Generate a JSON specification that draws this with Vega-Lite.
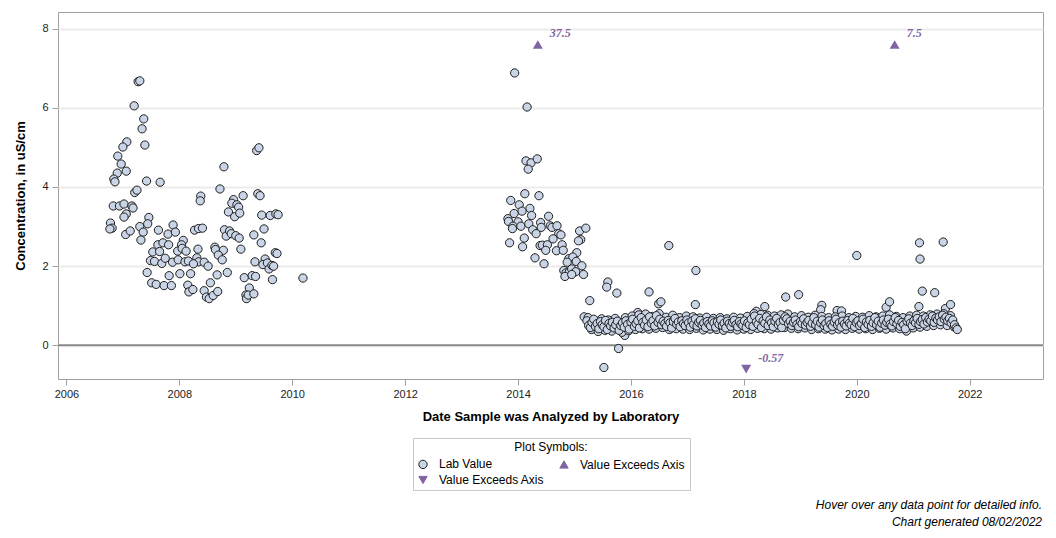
{
"$schema": "https://vega.github.io/schema/vega-lite/v6.json",
"width": 985, "height": 367,
"autosize": {"type": "none"},
"padding": {"left": 58, "top": 12, "right": 13, "bottom": 159},
"background": "white",
"config": {"font": "Liberation Sans", "view": {"stroke": "#a0a0a0", "strokeWidth": 1},
  "axis": {"labelFont": "Liberation Sans", "labelFontSize": 11, "labelColor": "#222", "tickColor": "#a0a0a0", "tickSize": 6, "domain": false, "titleFont": "Liberation Sans", "titleFontSize": 13, "titleFontWeight": "bold", "titleColor": "black"}},
"title": {"text": ["Hover over any data point for detailed info.", "Chart generated 08/02/2022"], "orient": "bottom", "anchor": "end", "fontStyle": "italic", "fontWeight": "normal", "fontSize": 12, "color": "black", "offset": 9, "dx": -2, "lineHeight": 17, "font": "Liberation Sans"},
"datasets": {
"pts": [
{"d":2007.27,"v":6.66,"t":"Lab Value"},{"d":2007.30,"v":6.68,"t":"Lab Value"},{"d":2007.20,"v":6.05,"t":"Lab Value"},{"d":2007.37,"v":5.72,"t":"Lab Value"},{"d":2007.34,"v":5.47,"t":"Lab Value"},{"d":2007.39,"v":5.06,"t":"Lab Value"},{"d":2007.07,"v":5.14,"t":"Lab Value"},{"d":2007.00,"v":5.01,"t":"Lab Value"},{"d":2006.91,"v":4.78,"t":"Lab Value"},{"d":2006.97,"v":4.58,"t":"Lab Value"},{"d":2006.90,"v":4.35,"t":"Lab Value"},{"d":2007.06,"v":4.40,"t":"Lab Value"},{"d":2006.84,"v":4.20,"t":"Lab Value"},{"d":2006.86,"v":4.13,"t":"Lab Value"},{"d":2007.42,"v":4.15,"t":"Lab Value"},{"d":2007.66,"v":4.12,"t":"Lab Value"},{"d":2008.79,"v":4.51,"t":"Lab Value"},{"d":2009.37,"v":4.92,"t":"Lab Value"},{"d":2009.41,"v":4.99,"t":"Lab Value"},{"d":2007.21,"v":3.86,"t":"Lab Value"},{"d":2007.25,"v":3.92,"t":"Lab Value"},{"d":2008.38,"v":3.77,"t":"Lab Value"},{"d":2008.72,"v":3.95,"t":"Lab Value"},{"d":2008.96,"v":3.68,"t":"Lab Value"},{"d":2009.13,"v":3.78,"t":"Lab Value"},{"d":2009.39,"v":3.83,"t":"Lab Value"},{"d":2009.43,"v":3.78,"t":"Lab Value"},
{"d":2006.83,"v":3.52,"t":"Lab Value"},{"d":2006.94,"v":3.52,"t":"Lab Value"},{"d":2007.02,"v":3.57,"t":"Lab Value"},{"d":2007.06,"v":3.32,"t":"Lab Value"},{"d":2007.02,"v":3.24,"t":"Lab Value"},{"d":2007.16,"v":3.52,"t":"Lab Value"},{"d":2007.18,"v":3.47,"t":"Lab Value"},{"d":2006.78,"v":3.09,"t":"Lab Value"},{"d":2006.81,"v":2.96,"t":"Lab Value"},{"d":2006.77,"v":2.94,"t":"Lab Value"},{"d":2007.05,"v":2.80,"t":"Lab Value"},{"d":2007.13,"v":2.89,"t":"Lab Value"},{"d":2007.30,"v":3.00,"t":"Lab Value"},{"d":2007.36,"v":2.86,"t":"Lab Value"},{"d":2007.32,"v":2.66,"t":"Lab Value"},{"d":2007.46,"v":3.23,"t":"Lab Value"},{"d":2007.44,"v":3.07,"t":"Lab Value"},{"d":2007.43,"v":1.84,"t":"Lab Value"},{"d":2007.51,"v":1.58,"t":"Lab Value"},{"d":2007.59,"v":1.54,"t":"Lab Value"},{"d":2007.53,"v":2.36,"t":"Lab Value"},{"d":2007.49,"v":2.14,"t":"Lab Value"},{"d":2007.56,"v":2.12,"t":"Lab Value"},{"d":2007.63,"v":2.91,"t":"Lab Value"},{"d":2007.62,"v":2.54,"t":"Lab Value"},{"d":2007.65,"v":2.37,"t":"Lab Value"},{"d":2007.69,"v":2.07,"t":"Lab Value"},{"d":2007.75,"v":2.20,"t":"Lab Value"},{"d":2007.71,"v":2.59,"t":"Lab Value"},{"d":2007.80,"v":2.81,"t":"Lab Value"},{"d":2007.89,"v":3.04,"t":"Lab Value"},{"d":2007.93,"v":2.86,"t":"Lab Value"},{"d":2007.81,"v":2.54,"t":"Lab Value"},{"d":2007.73,"v":1.51,"t":"Lab Value"},{"d":2007.86,"v":1.51,"t":"Lab Value"},{"d":2007.82,"v":1.76,"t":"Lab Value"},{"d":2007.88,"v":2.10,"t":"Lab Value"},{"d":2007.97,"v":2.38,"t":"Lab Value"},{"d":2007.98,"v":2.16,"t":"Lab Value"},{"d":2008.01,"v":1.81,"t":"Lab Value"},{"d":2008.07,"v":2.65,"t":"Lab Value"},{"d":2008.04,"v":2.54,"t":"Lab Value"},{"d":2008.05,"v":2.45,"t":"Lab Value"},{"d":2008.12,"v":2.38,"t":"Lab Value"},{"d":2008.10,"v":2.11,"t":"Lab Value"},{"d":2008.16,"v":2.13,"t":"Lab Value"},{"d":2008.15,"v":1.52,"t":"Lab Value"},{"d":2008.17,"v":1.35,"t":"Lab Value"},{"d":2008.24,"v":1.41,"t":"Lab Value"},{"d":2008.20,"v":1.81,"t":"Lab Value"},{"d":2008.27,"v":2.91,"t":"Lab Value"},{"d":2008.33,"v":2.43,"t":"Lab Value"},{"d":2008.34,"v":2.95,"t":"Lab Value"},{"d":2008.41,"v":2.96,"t":"Lab Value"},{"d":2008.37,"v":3.65,"t":"Lab Value"},{"d":2008.31,"v":2.21,"t":"Lab Value"},{"d":2008.34,"v":2.11,"t":"Lab Value"},{"d":2008.25,"v":2.06,"t":"Lab Value"},{"d":2008.44,"v":2.10,"t":"Lab Value"},{"d":2008.51,"v":2.00,"t":"Lab Value"},{"d":2008.44,"v":1.38,"t":"Lab Value"},{"d":2008.48,"v":1.22,"t":"Lab Value"},{"d":2008.53,"v":1.18,"t":"Lab Value"},{"d":2008.55,"v":1.58,"t":"Lab Value"},{"d":2008.60,"v":1.26,"t":"Lab Value"},{"d":2008.68,"v":1.36,"t":"Lab Value"},{"d":2008.67,"v":1.78,"t":"Lab Value"},{"d":2008.85,"v":1.84,"t":"Lab Value"},{"d":2008.63,"v":2.48,"t":"Lab Value"},{"d":2008.64,"v":2.42,"t":"Lab Value"},{"d":2008.78,"v":2.40,"t":"Lab Value"},{"d":2008.69,"v":2.28,"t":"Lab Value"},{"d":2008.76,"v":2.16,"t":"Lab Value"},{"d":2008.80,"v":2.92,"t":"Lab Value"},{"d":2008.83,"v":2.76,"t":"Lab Value"},{"d":2008.89,"v":2.89,"t":"Lab Value"},{"d":2008.92,"v":2.82,"t":"Lab Value"},{"d":2008.87,"v":3.37,"t":"Lab Value"},{"d":2008.93,"v":3.59,"t":"Lab Value"},{"d":2009.02,"v":3.55,"t":"Lab Value"},{"d":2009.05,"v":3.49,"t":"Lab Value"},{"d":2008.98,"v":3.25,"t":"Lab Value"},{"d":2009.07,"v":3.34,"t":"Lab Value"},{"d":2009.00,"v":2.77,"t":"Lab Value"},{"d":2009.06,"v":2.71,"t":"Lab Value"},{"d":2009.09,"v":2.43,"t":"Lab Value"},{"d":2009.15,"v":1.71,"t":"Lab Value"},{"d":2009.24,"v":1.45,"t":"Lab Value"},{"d":2009.18,"v":1.27,"t":"Lab Value"},{"d":2009.19,"v":1.18,"t":"Lab Value"},{"d":2009.22,"v":1.27,"t":"Lab Value"},{"d":2009.32,"v":1.30,"t":"Lab Value"},{"d":2009.29,"v":1.76,"t":"Lab Value"},{"d":2009.35,"v":1.74,"t":"Lab Value"},{"d":2009.32,"v":2.79,"t":"Lab Value"},{"d":2009.34,"v":2.11,"t":"Lab Value"},{"d":2009.45,"v":2.59,"t":"Lab Value"},{"d":2009.46,"v":3.29,"t":"Lab Value"},{"d":2009.50,"v":2.94,"t":"Lab Value"},{"d":2009.52,"v":2.18,"t":"Lab Value"},{"d":2009.48,"v":2.04,"t":"Lab Value"},{"d":2009.56,"v":2.08,"t":"Lab Value"},{"d":2009.59,"v":1.93,"t":"Lab Value"},{"d":2009.64,"v":2.02,"t":"Lab Value"},{"d":2009.67,"v":2.00,"t":"Lab Value"},{"d":2009.65,"v":1.66,"t":"Lab Value"},{"d":2009.61,"v":3.28,"t":"Lab Value"},{"d":2009.71,"v":3.32,"t":"Lab Value"},{"d":2009.75,"v":3.30,"t":"Lab Value"},{"d":2009.70,"v":2.34,"t":"Lab Value"},{"d":2009.73,"v":2.32,"t":"Lab Value"},{"d":2010.19,"v":1.70,"t":"Lab Value"},
{"d":2013.94,"v":6.88,"t":"Lab Value"},{"d":2014.16,"v":6.02,"t":"Lab Value"},{"d":2014.14,"v":4.66,"t":"Lab Value"},{"d":2014.23,"v":4.61,"t":"Lab Value"},{"d":2014.34,"v":4.71,"t":"Lab Value"},{"d":2014.18,"v":4.45,"t":"Lab Value"},{"d":2014.12,"v":3.83,"t":"Lab Value"},{"d":2014.37,"v":3.78,"t":"Lab Value"},{"d":2013.87,"v":3.66,"t":"Lab Value"},{"d":2014.02,"v":3.55,"t":"Lab Value"},{"d":2014.21,"v":3.46,"t":"Lab Value"},{"d":2014.07,"v":3.39,"t":"Lab Value"},{"d":2013.93,"v":3.33,"t":"Lab Value"},{"d":2014.24,"v":3.28,"t":"Lab Value"},{"d":2014.54,"v":3.26,"t":"Lab Value"},{"d":2013.82,"v":3.20,"t":"Lab Value"},{"d":2013.83,"v":3.13,"t":"Lab Value"},{"d":2014.00,"v":3.12,"t":"Lab Value"},{"d":2013.91,"v":3.01,"t":"Lab Value"},{"d":2013.90,"v":2.95,"t":"Lab Value"},{"d":2014.05,"v":3.01,"t":"Lab Value"},{"d":2014.19,"v":3.07,"t":"Lab Value"},{"d":2014.26,"v":2.92,"t":"Lab Value"},{"d":2014.32,"v":2.82,"t":"Lab Value"},{"d":2014.40,"v":3.10,"t":"Lab Value"},{"d":2014.41,"v":2.98,"t":"Lab Value"},{"d":2014.57,"v":3.02,"t":"Lab Value"},{"d":2014.60,"v":2.98,"t":"Lab Value"},{"d":2014.69,"v":3.02,"t":"Lab Value"},{"d":2014.72,"v":2.82,"t":"Lab Value"},{"d":2014.76,"v":2.79,"t":"Lab Value"},{"d":2014.62,"v":2.69,"t":"Lab Value"},{"d":2014.11,"v":2.71,"t":"Lab Value"},{"d":2013.85,"v":2.59,"t":"Lab Value"},{"d":2014.08,"v":2.49,"t":"Lab Value"},{"d":2014.39,"v":2.52,"t":"Lab Value"},{"d":2014.43,"v":2.53,"t":"Lab Value"},{"d":2014.52,"v":2.54,"t":"Lab Value"},{"d":2014.49,"v":2.40,"t":"Lab Value"},{"d":2014.30,"v":2.21,"t":"Lab Value"},{"d":2014.46,"v":2.06,"t":"Lab Value"},{"d":2014.78,"v":2.54,"t":"Lab Value"},{"d":2014.68,"v":2.39,"t":"Lab Value"},{"d":2014.80,"v":2.40,"t":"Lab Value"},{"d":2015.04,"v":2.34,"t":"Lab Value"},{"d":2015.09,"v":2.89,"t":"Lab Value"},{"d":2015.20,"v":2.96,"t":"Lab Value"},{"d":2015.11,"v":2.67,"t":"Lab Value"},{"d":2015.07,"v":2.64,"t":"Lab Value"},{"d":2014.90,"v":2.19,"t":"Lab Value"},{"d":2014.97,"v":2.23,"t":"Lab Value"},{"d":2015.03,"v":2.12,"t":"Lab Value"},{"d":2014.87,"v":2.10,"t":"Lab Value"},{"d":2015.13,"v":2.01,"t":"Lab Value"},{"d":2014.81,"v":1.89,"t":"Lab Value"},{"d":2014.85,"v":1.83,"t":"Lab Value"},{"d":2014.91,"v":1.86,"t":"Lab Value"},{"d":2014.95,"v":1.93,"t":"Lab Value"},{"d":2015.02,"v":1.86,"t":"Lab Value"},{"d":2015.16,"v":1.79,"t":"Lab Value"},{"d":2014.83,"v":1.74,"t":"Lab Value"},{"d":2014.95,"v":1.79,"t":"Lab Value"},{"d":2015.27,"v":1.13,"t":"Lab Value"},
{"d":2015.17,"v":0.72,"t":"Lab Value"},{"d":2015.59,"v":1.60,"t":"Lab Value"},{"d":2015.57,"v":1.47,"t":"Lab Value"},{"d":2015.75,"v":1.32,"t":"Lab Value"},{"d":2015.52,"v":-0.56,"t":"Lab Value"},{"d":2015.78,"v":-0.08,"t":"Lab Value"},{"d":2015.89,"v":0.25,"t":"Lab Value"},{"d":2016.67,"v":2.52,"t":"Lab Value"},{"d":2016.32,"v":1.35,"t":"Lab Value"},{"d":2016.49,"v":1.05,"t":"Lab Value"},{"d":2016.53,"v":1.10,"t":"Lab Value"},{"d":2016.12,"v":0.83,"t":"Lab Value"},{"d":2017.15,"v":1.89,"t":"Lab Value"},{"d":2017.14,"v":1.03,"t":"Lab Value"},{"d":2018.37,"v":0.98,"t":"Lab Value"},{"d":2018.22,"v":0.86,"t":"Lab Value"},{"d":2018.74,"v":1.22,"t":"Lab Value"},{"d":2018.97,"v":1.28,"t":"Lab Value"},{"d":2019.38,"v":1.01,"t":"Lab Value"},{"d":2019.36,"v":0.90,"t":"Lab Value"},{"d":2019.65,"v":0.88,"t":"Lab Value"},{"d":2019.73,"v":0.87,"t":"Lab Value"},{"d":2020.00,"v":2.27,"t":"Lab Value"},{"d":2020.52,"v":0.96,"t":"Lab Value"},{"d":2020.58,"v":1.10,"t":"Lab Value"},{"d":2021.11,"v":2.59,"t":"Lab Value"},{"d":2021.12,"v":2.18,"t":"Lab Value"},{"d":2021.16,"v":1.37,"t":"Lab Value"},{"d":2021.38,"v":1.33,"t":"Lab Value"},{"d":2021.53,"v":2.61,"t":"Lab Value"},{"d":2021.10,"v":0.98,"t":"Lab Value"},{"d":2021.57,"v":0.93,"t":"Lab Value"},{"d":2021.66,"v":1.03,"t":"Lab Value"},
{"d":2015.24,"v":0.70,"t":"Lab Value"},{"d":2015.30,"v":0.40,"t":"Lab Value"},{"d":2015.36,"v":0.62,"t":"Lab Value"},{"d":2015.42,"v":0.35,"t":"Lab Value"},{"d":2015.48,"v":0.67,"t":"Lab Value"},{"d":2015.54,"v":0.38,"t":"Lab Value"},{"d":2015.60,"v":0.64,"t":"Lab Value"},{"d":2015.66,"v":0.36,"t":"Lab Value"},{"d":2015.72,"v":0.68,"t":"Lab Value"},{"d":2015.78,"v":0.42,"t":"Lab Value"},{"d":2015.84,"v":0.33,"t":"Lab Value"},{"d":2015.90,"v":0.70,"t":"Lab Value"},{"d":2015.96,"v":0.37,"t":"Lab Value"},{"d":2016.02,"v":0.74,"t":"Lab Value"},{"d":2016.08,"v":0.40,"t":"Lab Value"},{"d":2016.14,"v":0.77,"t":"Lab Value"},{"d":2016.20,"v":0.42,"t":"Lab Value"},{"d":2016.26,"v":0.79,"t":"Lab Value"},{"d":2016.32,"v":0.41,"t":"Lab Value"},{"d":2016.38,"v":0.73,"t":"Lab Value"},{"d":2016.44,"v":0.43,"t":"Lab Value"},{"d":2016.50,"v":0.80,"t":"Lab Value"},{"d":2016.56,"v":0.45,"t":"Lab Value"},{"d":2016.62,"v":0.71,"t":"Lab Value"},{"d":2016.68,"v":0.40,"t":"Lab Value"},{"d":2016.74,"v":0.76,"t":"Lab Value"},{"d":2016.80,"v":0.42,"t":"Lab Value"},{"d":2016.86,"v":0.70,"t":"Lab Value"},{"d":2016.92,"v":0.41,"t":"Lab Value"},{"d":2016.98,"v":0.74,"t":"Lab Value"},{"d":2017.04,"v":0.40,"t":"Lab Value"},{"d":2017.10,"v":0.72,"t":"Lab Value"},{"d":2017.16,"v":0.43,"t":"Lab Value"},{"d":2017.22,"v":0.69,"t":"Lab Value"},{"d":2017.28,"v":0.39,"t":"Lab Value"},{"d":2017.34,"v":0.71,"t":"Lab Value"},{"d":2017.40,"v":0.41,"t":"Lab Value"},{"d":2017.46,"v":0.68,"t":"Lab Value"},{"d":2017.52,"v":0.40,"t":"Lab Value"},{"d":2017.58,"v":0.70,"t":"Lab Value"},{"d":2017.64,"v":0.38,"t":"Lab Value"},{"d":2017.70,"v":0.67,"t":"Lab Value"},{"d":2017.76,"v":0.42,"t":"Lab Value"},{"d":2017.82,"v":0.71,"t":"Lab Value"},{"d":2017.88,"v":0.39,"t":"Lab Value"},{"d":2017.94,"v":0.69,"t":"Lab Value"},{"d":2018.00,"v":0.41,"t":"Lab Value"},{"d":2018.06,"v":0.73,"t":"Lab Value"},{"d":2018.12,"v":0.40,"t":"Lab Value"},{"d":2018.18,"v":0.80,"t":"Lab Value"},{"d":2018.24,"v":0.43,"t":"Lab Value"},{"d":2018.30,"v":0.78,"t":"Lab Value"},{"d":2018.36,"v":0.42,"t":"Lab Value"},{"d":2018.42,"v":0.76,"t":"Lab Value"},{"d":2018.48,"v":0.41,"t":"Lab Value"},{"d":2018.54,"v":0.74,"t":"Lab Value"},{"d":2018.60,"v":0.44,"t":"Lab Value"},{"d":2018.66,"v":0.77,"t":"Lab Value"},{"d":2018.72,"v":0.45,"t":"Lab Value"},{"d":2018.78,"v":0.79,"t":"Lab Value"},{"d":2018.84,"v":0.43,"t":"Lab Value"},{"d":2018.90,"v":0.72,"t":"Lab Value"},{"d":2018.96,"v":0.42,"t":"Lab Value"},{"d":2019.02,"v":0.75,"t":"Lab Value"},{"d":2019.08,"v":0.44,"t":"Lab Value"},{"d":2019.14,"v":0.71,"t":"Lab Value"},{"d":2019.20,"v":0.40,"t":"Lab Value"},{"d":2019.26,"v":0.76,"t":"Lab Value"},{"d":2019.32,"v":0.42,"t":"Lab Value"},{"d":2019.38,"v":0.73,"t":"Lab Value"},{"d":2019.44,"v":0.41,"t":"Lab Value"},{"d":2019.50,"v":0.70,"t":"Lab Value"},{"d":2019.56,"v":0.39,"t":"Lab Value"},{"d":2019.62,"v":0.72,"t":"Lab Value"},{"d":2019.68,"v":0.41,"t":"Lab Value"},{"d":2019.74,"v":0.74,"t":"Lab Value"},{"d":2019.80,"v":0.40,"t":"Lab Value"},{"d":2019.86,"v":0.70,"t":"Lab Value"},{"d":2019.92,"v":0.43,"t":"Lab Value"},{"d":2019.98,"v":0.73,"t":"Lab Value"},{"d":2020.04,"v":0.41,"t":"Lab Value"},{"d":2020.10,"v":0.71,"t":"Lab Value"},{"d":2020.16,"v":0.42,"t":"Lab Value"},{"d":2020.22,"v":0.75,"t":"Lab Value"},{"d":2020.28,"v":0.40,"t":"Lab Value"},{"d":2020.34,"v":0.72,"t":"Lab Value"},{"d":2020.40,"v":0.43,"t":"Lab Value"},{"d":2020.46,"v":0.74,"t":"Lab Value"},{"d":2020.52,"v":0.41,"t":"Lab Value"},{"d":2020.58,"v":0.77,"t":"Lab Value"},{"d":2020.64,"v":0.44,"t":"Lab Value"},{"d":2020.70,"v":0.73,"t":"Lab Value"},{"d":2020.76,"v":0.42,"t":"Lab Value"},{"d":2020.82,"v":0.70,"t":"Lab Value"},{"d":2020.88,"v":0.36,"t":"Lab Value"},{"d":2020.94,"v":0.74,"t":"Lab Value"},{"d":2021.00,"v":0.44,"t":"Lab Value"},{"d":2021.06,"v":0.76,"t":"Lab Value"},{"d":2021.12,"v":0.46,"t":"Lab Value"},{"d":2021.18,"v":0.74,"t":"Lab Value"},{"d":2021.24,"v":0.48,"t":"Lab Value"},{"d":2021.30,"v":0.77,"t":"Lab Value"},{"d":2021.36,"v":0.50,"t":"Lab Value"},{"d":2021.42,"v":0.79,"t":"Lab Value"},{"d":2021.48,"v":0.52,"t":"Lab Value"},{"d":2021.54,"v":0.80,"t":"Lab Value"},{"d":2021.60,"v":0.50,"t":"Lab Value"},{"d":2021.66,"v":0.75,"t":"Lab Value"},{"d":2021.72,"v":0.47,"t":"Lab Value"},
{"d":2015.22,"v":0.62,"t":"Lab Value"},{"d":2015.25,"v":0.50,"t":"Lab Value"},{"d":2015.28,"v":0.45,"t":"Lab Value"},{"d":2015.31,"v":0.58,"t":"Lab Value"},{"d":2015.34,"v":0.66,"t":"Lab Value"},{"d":2015.37,"v":0.48,"t":"Lab Value"},{"d":2015.40,"v":0.55,"t":"Lab Value"},{"d":2015.43,"v":0.42,"t":"Lab Value"},{"d":2015.46,"v":0.60,"t":"Lab Value"},{"d":2015.49,"v":0.52,"t":"Lab Value"},{"d":2015.52,"v":0.47,"t":"Lab Value"},{"d":2015.55,"v":0.63,"t":"Lab Value"},{"d":2015.58,"v":0.40,"t":"Lab Value"},{"d":2015.61,"v":0.55,"t":"Lab Value"},{"d":2015.64,"v":0.49,"t":"Lab Value"},{"d":2015.67,"v":0.58,"t":"Lab Value"},{"d":2015.70,"v":0.44,"t":"Lab Value"},{"d":2015.73,"v":0.52,"t":"Lab Value"},{"d":2015.76,"v":0.61,"t":"Lab Value"},{"d":2015.79,"v":0.38,"t":"Lab Value"},{"d":2015.82,"v":0.50,"t":"Lab Value"},{"d":2015.85,"v":0.57,"t":"Lab Value"},{"d":2015.88,"v":0.46,"t":"Lab Value"},{"d":2015.91,"v":0.62,"t":"Lab Value"},{"d":2015.94,"v":0.53,"t":"Lab Value"},{"d":2015.97,"v":0.41,"t":"Lab Value"},{"d":2016.00,"v":0.59,"t":"Lab Value"},{"d":2016.03,"v":0.66,"t":"Lab Value"},{"d":2016.06,"v":0.48,"t":"Lab Value"},{"d":2016.09,"v":0.55,"t":"Lab Value"},{"d":2016.12,"v":0.62,"t":"Lab Value"},{"d":2016.15,"v":0.44,"t":"Lab Value"},{"d":2016.18,"v":0.70,"t":"Lab Value"},{"d":2016.21,"v":0.58,"t":"Lab Value"},{"d":2016.24,"v":0.51,"t":"Lab Value"},{"d":2016.27,"v":0.64,"t":"Lab Value"},{"d":2016.30,"v":0.47,"t":"Lab Value"},{"d":2016.33,"v":0.72,"t":"Lab Value"},{"d":2016.36,"v":0.56,"t":"Lab Value"},{"d":2016.39,"v":0.62,"t":"Lab Value"},{"d":2016.42,"v":0.49,"t":"Lab Value"},{"d":2016.45,"v":0.75,"t":"Lab Value"},{"d":2016.48,"v":0.58,"t":"Lab Value"},{"d":2016.51,"v":0.66,"t":"Lab Value"},{"d":2016.54,"v":0.52,"t":"Lab Value"},{"d":2016.57,"v":0.61,"t":"Lab Value"},{"d":2016.60,"v":0.55,"t":"Lab Value"},{"d":2016.63,"v":0.48,"t":"Lab Value"},{"d":2016.66,"v":0.63,"t":"Lab Value"},{"d":2016.69,"v":0.57,"t":"Lab Value"},{"d":2016.72,"v":0.44,"t":"Lab Value"},{"d":2016.75,"v":0.60,"t":"Lab Value"},{"d":2016.78,"v":0.68,"t":"Lab Value"},{"d":2016.81,"v":0.53,"t":"Lab Value"},{"d":2016.84,"v":0.59,"t":"Lab Value"},{"d":2016.87,"v":0.47,"t":"Lab Value"},{"d":2016.90,"v":0.62,"t":"Lab Value"},{"d":2016.93,"v":0.55,"t":"Lab Value"},{"d":2016.96,"v":0.50,"t":"Lab Value"},{"d":2016.99,"v":0.64,"t":"Lab Value"},{"d":2017.02,"v":0.57,"t":"Lab Value"},{"d":2017.05,"v":0.46,"t":"Lab Value"},{"d":2017.08,"v":0.61,"t":"Lab Value"},{"d":2017.11,"v":0.53,"t":"Lab Value"},{"d":2017.14,"v":0.67,"t":"Lab Value"},{"d":2017.17,"v":0.49,"t":"Lab Value"},{"d":2017.20,"v":0.58,"t":"Lab Value"},{"d":2017.23,"v":0.63,"t":"Lab Value"},{"d":2017.26,"v":0.51,"t":"Lab Value"},{"d":2017.29,"v":0.56,"t":"Lab Value"},{"d":2017.32,"v":0.45,"t":"Lab Value"},{"d":2017.35,"v":0.60,"t":"Lab Value"},{"d":2017.38,"v":0.54,"t":"Lab Value"},{"d":2017.41,"v":0.49,"t":"Lab Value"},{"d":2017.44,"v":0.62,"t":"Lab Value"},{"d":2017.47,"v":0.57,"t":"Lab Value"},{"d":2017.50,"v":0.46,"t":"Lab Value"},{"d":2017.53,"v":0.59,"t":"Lab Value"},{"d":2017.56,"v":0.53,"t":"Lab Value"},{"d":2017.59,"v":0.64,"t":"Lab Value"},{"d":2017.62,"v":0.50,"t":"Lab Value"},{"d":2017.65,"v":0.56,"t":"Lab Value"},{"d":2017.68,"v":0.44,"t":"Lab Value"},{"d":2017.71,"v":0.61,"t":"Lab Value"},{"d":2017.74,"v":0.55,"t":"Lab Value"},{"d":2017.77,"v":0.48,"t":"Lab Value"},{"d":2017.80,"v":0.58,"t":"Lab Value"},{"d":2017.83,"v":0.63,"t":"Lab Value"},{"d":2017.86,"v":0.52,"t":"Lab Value"},{"d":2017.89,"v":0.47,"t":"Lab Value"},{"d":2017.92,"v":0.60,"t":"Lab Value"},{"d":2017.95,"v":0.54,"t":"Lab Value"},{"d":2017.98,"v":0.50,"t":"Lab Value"},{"d":2018.01,"v":0.62,"t":"Lab Value"},{"d":2018.04,"v":0.45,"t":"Lab Value"},{"d":2018.07,"v":0.57,"t":"Lab Value"},{"d":2018.10,"v":0.52,"t":"Lab Value"},{"d":2018.13,"v":0.66,"t":"Lab Value"},{"d":2018.16,"v":0.48,"t":"Lab Value"},{"d":2018.19,"v":0.74,"t":"Lab Value"},{"d":2018.22,"v":0.59,"t":"Lab Value"},{"d":2018.25,"v":0.53,"t":"Lab Value"},{"d":2018.28,"v":0.68,"t":"Lab Value"},{"d":2018.31,"v":0.45,"t":"Lab Value"},{"d":2018.34,"v":0.62,"t":"Lab Value"},{"d":2018.37,"v":0.56,"t":"Lab Value"},{"d":2018.40,"v":0.72,"t":"Lab Value"},{"d":2018.43,"v":0.50,"t":"Lab Value"},{"d":2018.46,"v":0.64,"t":"Lab Value"},{"d":2018.49,"v":0.57,"t":"Lab Value"},{"d":2018.52,"v":0.47,"t":"Lab Value"},{"d":2018.55,"v":0.61,"t":"Lab Value"},{"d":2018.58,"v":0.68,"t":"Lab Value"},{"d":2018.61,"v":0.52,"t":"Lab Value"},{"d":2018.64,"v":0.58,"t":"Lab Value"},{"d":2018.67,"v":0.45,"t":"Lab Value"},{"d":2018.70,"v":0.63,"t":"Lab Value"},{"d":2018.73,"v":0.72,"t":"Lab Value"},{"d":2018.76,"v":0.67,"t":"Lab Value"},{"d":2018.79,"v":0.55,"t":"Lab Value"},{"d":2018.82,"v":0.61,"t":"Lab Value"},{"d":2018.85,"v":0.50,"t":"Lab Value"},{"d":2018.88,"v":0.58,"t":"Lab Value"},{"d":2018.91,"v":0.64,"t":"Lab Value"},{"d":2018.94,"v":0.53,"t":"Lab Value"},{"d":2018.97,"v":0.47,"t":"Lab Value"},{"d":2019.00,"v":0.60,"t":"Lab Value"},{"d":2019.03,"v":0.55,"t":"Lab Value"},{"d":2019.06,"v":0.67,"t":"Lab Value"},{"d":2019.09,"v":0.51,"t":"Lab Value"},{"d":2019.12,"v":0.58,"t":"Lab Value"},{"d":2019.15,"v":0.63,"t":"Lab Value"},{"d":2019.18,"v":0.48,"t":"Lab Value"},{"d":2019.21,"v":0.56,"t":"Lab Value"},{"d":2019.24,"v":0.70,"t":"Lab Value"},{"d":2019.27,"v":0.52,"t":"Lab Value"},{"d":2019.30,"v":0.61,"t":"Lab Value"},{"d":2019.33,"v":0.46,"t":"Lab Value"},{"d":2019.36,"v":0.57,"t":"Lab Value"},{"d":2019.39,"v":0.64,"t":"Lab Value"},{"d":2019.42,"v":0.50,"t":"Lab Value"},{"d":2019.45,"v":0.55,"t":"Lab Value"},{"d":2019.48,"v":0.45,"t":"Lab Value"},{"d":2019.51,"v":0.62,"t":"Lab Value"},{"d":2019.54,"v":0.53,"t":"Lab Value"},{"d":2019.57,"v":0.48,"t":"Lab Value"},{"d":2019.60,"v":0.59,"t":"Lab Value"},{"d":2019.63,"v":0.66,"t":"Lab Value"},{"d":2019.66,"v":0.51,"t":"Lab Value"},{"d":2019.69,"v":0.57,"t":"Lab Value"},{"d":2019.72,"v":0.46,"t":"Lab Value"},{"d":2019.75,"v":0.61,"t":"Lab Value"},{"d":2019.78,"v":0.54,"t":"Lab Value"},{"d":2019.81,"v":0.49,"t":"Lab Value"},{"d":2019.84,"v":0.63,"t":"Lab Value"},{"d":2019.87,"v":0.56,"t":"Lab Value"},{"d":2019.90,"v":0.52,"t":"Lab Value"},{"d":2019.93,"v":0.68,"t":"Lab Value"},{"d":2019.96,"v":0.47,"t":"Lab Value"},{"d":2019.99,"v":0.58,"t":"Lab Value"},{"d":2020.02,"v":0.62,"t":"Lab Value"},{"d":2020.05,"v":0.50,"t":"Lab Value"},{"d":2020.08,"v":0.55,"t":"Lab Value"},{"d":2020.11,"v":0.66,"t":"Lab Value"},{"d":2020.14,"v":0.45,"t":"Lab Value"},{"d":2020.17,"v":0.59,"t":"Lab Value"},{"d":2020.20,"v":0.53,"t":"Lab Value"},{"d":2020.23,"v":0.63,"t":"Lab Value"},{"d":2020.26,"v":0.48,"t":"Lab Value"},{"d":2020.29,"v":0.57,"t":"Lab Value"},{"d":2020.32,"v":0.70,"t":"Lab Value"},{"d":2020.35,"v":0.52,"t":"Lab Value"},{"d":2020.38,"v":0.61,"t":"Lab Value"},{"d":2020.41,"v":0.46,"t":"Lab Value"},{"d":2020.44,"v":0.56,"t":"Lab Value"},{"d":2020.47,"v":0.64,"t":"Lab Value"},{"d":2020.50,"v":0.51,"t":"Lab Value"},{"d":2020.53,"v":0.58,"t":"Lab Value"},{"d":2020.56,"v":0.66,"t":"Lab Value"},{"d":2020.59,"v":0.53,"t":"Lab Value"},{"d":2020.62,"v":0.49,"t":"Lab Value"},{"d":2020.65,"v":0.60,"t":"Lab Value"},{"d":2020.68,"v":0.70,"t":"Lab Value"},{"d":2020.71,"v":0.55,"t":"Lab Value"},{"d":2020.74,"v":0.63,"t":"Lab Value"},{"d":2020.77,"v":0.48,"t":"Lab Value"},{"d":2020.80,"v":0.58,"t":"Lab Value"},{"d":2020.83,"v":0.52,"t":"Lab Value"},{"d":2020.86,"v":0.42,"t":"Lab Value"},{"d":2020.89,"v":0.61,"t":"Lab Value"},{"d":2020.92,"v":0.67,"t":"Lab Value"},{"d":2020.95,"v":0.56,"t":"Lab Value"},{"d":2020.98,"v":0.50,"t":"Lab Value"},{"d":2021.01,"v":0.62,"t":"Lab Value"},{"d":2021.04,"v":0.57,"t":"Lab Value"},{"d":2021.07,"v":0.68,"t":"Lab Value"},{"d":2021.10,"v":0.53,"t":"Lab Value"},{"d":2021.13,"v":0.60,"t":"Lab Value"},{"d":2021.16,"v":0.65,"t":"Lab Value"},{"d":2021.19,"v":0.54,"t":"Lab Value"},{"d":2021.22,"v":0.70,"t":"Lab Value"},{"d":2021.25,"v":0.59,"t":"Lab Value"},{"d":2021.28,"v":0.66,"t":"Lab Value"},{"d":2021.31,"v":0.62,"t":"Lab Value"},{"d":2021.34,"v":0.74,"t":"Lab Value"},{"d":2021.37,"v":0.58,"t":"Lab Value"},{"d":2021.40,"v":0.69,"t":"Lab Value"},{"d":2021.43,"v":0.64,"t":"Lab Value"},{"d":2021.46,"v":0.72,"t":"Lab Value"},{"d":2021.49,"v":0.60,"t":"Lab Value"},{"d":2021.52,"v":0.76,"t":"Lab Value"},{"d":2021.55,"v":0.66,"t":"Lab Value"},{"d":2021.58,"v":0.71,"t":"Lab Value"},{"d":2021.61,"v":0.62,"t":"Lab Value"},{"d":2021.64,"v":0.68,"t":"Lab Value"},{"d":2021.67,"v":0.57,"t":"Lab Value"},{"d":2021.70,"v":0.64,"t":"Lab Value"},{"d":2021.73,"v":0.52,"t":"Lab Value"},{"d":2021.76,"v":0.44,"t":"Lab Value"},{"d":2021.78,"v":0.40,"t":"Lab Value"}
],
"exceed": [
{"d":2014.35,"v":7.6,"t":"Above Axis","label":"37.5"},
{"d":2020.67,"v":7.6,"t":"Above Axis","label":"7.5"},
{"d":2018.04,"v":-0.6,"t":"Below Axis","label":"-0.57"}
]
},
"layer": [
{"data": {"values": [{}]}, "mark": {"type": "rule", "color": "#8a8a8a", "strokeWidth": 2},
 "encoding": {"y": {"datum": 0, "type": "quantitative"}}},
{"data": {"name": "pts"}, "mark": {"type": "point", "filled": true, "size": 68, "strokeWidth": 1, "opacity": 1},
 "encoding": {
  "x": {"field": "d", "type": "quantitative", "title": "Date Sample was Analyzed by Laboratory",
        "scale": {"domain": [2005.851, 2023.298], "nice": false, "zero": false},
        "axis": {"values": [2006, 2008, 2010, 2012, 2014, 2016, 2018, 2020, 2022], "format": "d", "grid": false, "labelPadding": 3, "titlePadding": 11}},
  "y": {"field": "v", "type": "quantitative", "title": "Concentration, in uS/cm",
        "scale": {"domain": [-0.85, 8.42], "nice": false, "zero": false},
        "axis": {"values": [0, 2, 4, 6, 8], "grid": true, "gridColor": "#ebebeb", "gridWidth": 2, "labelPadding": 4, "titlePadding": 14}},
  "shape": {"field": "t", "type": "nominal", "scale": {"domain": ["Lab Value", "Above Axis", "Below Axis"], "range": ["circle", "triangle-up", "triangle-down"]},
    "legend": {"title": "Plot Symbols:", "orient": "none", "direction": "horizontal", "legendX": 355, "legendY": 426, "columns": 2, "columnPadding": 12, "rowPadding": 3, "labelOffset": 10, "fillColor": "white", "strokeColor": "#c8c8c8", "padding": 4, "titleAnchor": "middle", "titleFontWeight": "normal", "titleFontSize": 12, "titleColor": "black", "titlePadding": 4, "labelFontSize": 12, "labelColor": "black", "symbolSize": 70, "symbolStrokeWidth": 1, "labelExpr": "datum.value == 'Lab Value' ? 'Lab Value' : 'Value Exceeds Axis'"}},
  "fill": {"field": "t", "type": "nominal", "scale": {"domain": ["Lab Value", "Above Axis", "Below Axis"], "range": ["#c9d5e6", "#8064a2", "#8064a2"]}, "legend": {"title": "Plot Symbols:"}},
  "stroke": {"field": "t", "type": "nominal", "scale": {"domain": ["Lab Value", "Above Axis", "Below Axis"], "range": ["#1c1c1c", "#8064a2", "#8064a2"]}, "legend": {"title": "Plot Symbols:"}}
 }},
{"data": {"name": "exceed"}, "mark": {"type": "point", "filled": true, "size": 100, "strokeWidth": 0, "opacity": 1},
 "encoding": {
  "x": {"field": "d", "type": "quantitative"},
  "y": {"field": "v", "type": "quantitative"},
  "shape": {"field": "t", "type": "nominal"},
  "fill": {"field": "t", "type": "nominal"},
  "stroke": {"field": "t", "type": "nominal"}
 }},
{"data": {"name": "exceed"}, "mark": {"type": "text", "align": "left", "baseline": "middle", "dx": 12, "dy": -11, "font": "Liberation Serif", "fontStyle": "italic", "fontWeight": "bold", "fontSize": 12, "color": "#8064a2"},
 "encoding": {
  "x": {"field": "d", "type": "quantitative"},
  "y": {"field": "v", "type": "quantitative"},
  "text": {"field": "label"}
 }}
]
}
